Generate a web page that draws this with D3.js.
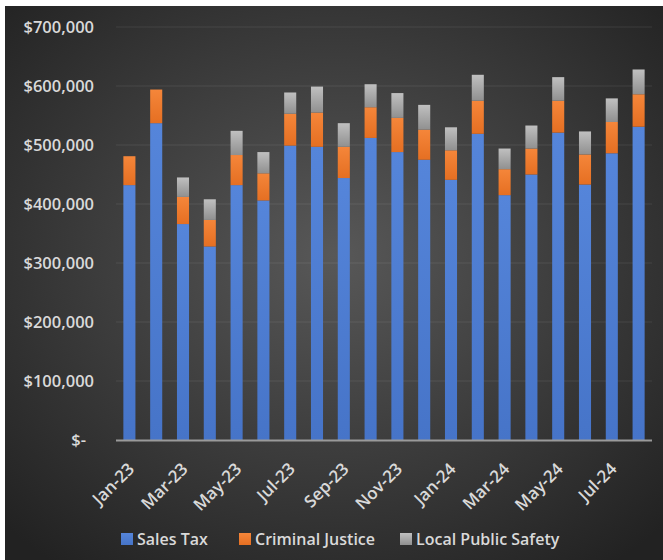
<!DOCTYPE html>
<html>
<head>
<meta charset="utf-8">
<script src="https://cdn.jsdelivr.net/npm/d3@7/dist/d3.min.js"></script>
<style>
  html, body { margin: 0; padding: 0; background: #ffffff; }
  svg { display: block; }
  text { font-family: "Open Sans", "DejaVu Sans", sans-serif; }
</style>
</head>
<body>
<svg id="chart" width="663" height="560"></svg>
<script>
// Monthly revenue by source
const months = ["Jan-23","Feb-23","Mar-23","Apr-23","May-23","Jun-23","Jul-23","Aug-23","Sep-23","Oct-23",
                "Nov-23","Dec-23","Jan-24","Feb-24","Mar-24","Apr-24","May-24","Jun-24","Jul-24","Aug-24"];
const salesTax        = [432000,537000,366000,328000,432000,406000,499000,497000,444000,512000,
                         488000,475000,441000,519000,415000,450000,521000,433000,486000,531000];
const criminalJustice = [49000,57000,46000,45000,51000,46000,54000,58000,53000,52000,
                         58000,51000,50000,56000,44000,44000,54000,51000,53000,55000];
const localSafety     = [0,0,33000,35000,41000,36000,36000,44000,40000,39000,
                         42000,42000,39000,44000,35000,39000,40000,39000,40000,42000];
const seriesNames = ["Sales Tax","Criminal Justice","Local Public Safety"];
const yTicks = [0,100000,200000,300000,400000,500000,600000,700000];

const table = months.map((m, i) => ({
  month: m,
  "Sales Tax": salesTax[i],
  "Criminal Justice": criminalJustice[i],
  "Local Public Safety": localSafety[i]
}));

const svg = d3.select("#chart");
const defs = svg.append("defs");

// panel background: dark with a soft lighter centre
const bg = defs.append("radialGradient").attr("id","bg")
  .attr("cx","50%").attr("cy","45%").attr("r","70%");
bg.append("stop").attr("offset","0%").attr("stop-color","#585858");
bg.append("stop").attr("offset","100%").attr("stop-color","#222222");

// fills for each series (slight vertical shading)
const fills = {
  "Sales Tax": ["#5585da","#4674c8"],
  "Criminal Justice": ["#f5863a","#e56f22"],
  "Local Public Safety": ["#c0c0c0","#909090"]
};
seriesNames.forEach((s, i) => {
  const g = defs.append("linearGradient").attr("id","f"+i)
    .attr("x1","0").attr("y1","0").attr("x2","0").attr("y2","1");
  g.append("stop").attr("offset","0%").attr("stop-color",fills[s][0]);
  g.append("stop").attr("offset","100%").attr("stop-color",fills[s][1]);
});

svg.append("rect").attr("x",5).attr("y",6).attr("width",658).attr("height",554)
  .attr("fill","url(#bg)");

const x = d3.scaleBand().domain(months).range([116, 652]).paddingInner(0.55).paddingOuter(0.275);
const y = d3.scaleLinear().domain([0, 700000]).range([440, 27]);

// gridlines
svg.append("g").selectAll("line").data(yTicks.filter(d => d > 0)).join("line")
  .attr("x1",116).attr("x2",652)
  .attr("y1",d => y(d)).attr("y2",d => y(d))
  .attr("stroke","rgba(255,255,255,0.09)").attr("stroke-width",1);

// y axis labels
const yAxis = d3.axisLeft(y).tickValues(yTicks).tickSize(0)
  .tickFormat(d => d === 0 ? "$-" : "$" + d3.format(",")(d));
const yg = svg.append("g").attr("transform","translate(94,0)").call(yAxis);
yg.select(".domain").remove();
yg.selectAll("text")
  .attr("x", d => d === 0 ? -8 : 0)
  .attr("fill","#d9d9d9").attr("font-size","16.5px").attr("font-weight",600)
  .style("font-family","'Open Sans', sans-serif");

// stacked bars
const stack = d3.stack().keys(seriesNames)(table);
svg.append("g").selectAll("g").data(stack).join("g")
  .attr("fill",(d, i) => "url(#f"+i+")")
  .selectAll("rect").data(d => d).join("rect")
  .attr("x", d => x(d.data.month))
  .attr("width", x.bandwidth())
  .attr("y", d => y(d[1]))
  .attr("height", d => Math.max(0, y(d[0]) - y(d[1])));

// baseline
svg.append("line").attr("x1",116).attr("x2",652).attr("y1",y(0)+0.5).attr("y2",y(0)+0.5)
  .attr("stroke","#9a9a9a").attr("stroke-width",2);

// x axis labels, every other month
const xAxis = d3.axisBottom(x).tickValues(months.filter((m, i) => i % 2 === 0)).tickSize(0);
const xg = svg.append("g").attr("transform","translate(0,441)").call(xAxis);
xg.select(".domain").remove();
xg.selectAll("text")
  .attr("fill","#d9d9d9").attr("font-size","17px").attr("font-weight",600)
  .style("font-family","'Open Sans', sans-serif")
  .attr("text-anchor","end")
  .attr("dy",null).attr("y",0)
  .attr("transform","translate(6,29) rotate(-45)");

// legend
const legendX = [121, 239, 400];
const lg = svg.append("g").selectAll("g").data(seriesNames).join("g")
  .attr("transform",(d, i) => `translate(${legendX[i]},533)`);
lg.append("rect").attr("width",12).attr("height",12).attr("fill",(d, i) => "url(#f"+i+")");
lg.append("text").attr("x",16).attr("y",6).attr("dy","0.35em")
  .attr("fill","#d9d9d9").attr("font-size","16px").attr("font-weight",600)
  .text(d => d);
</script>
</body>
</html>
